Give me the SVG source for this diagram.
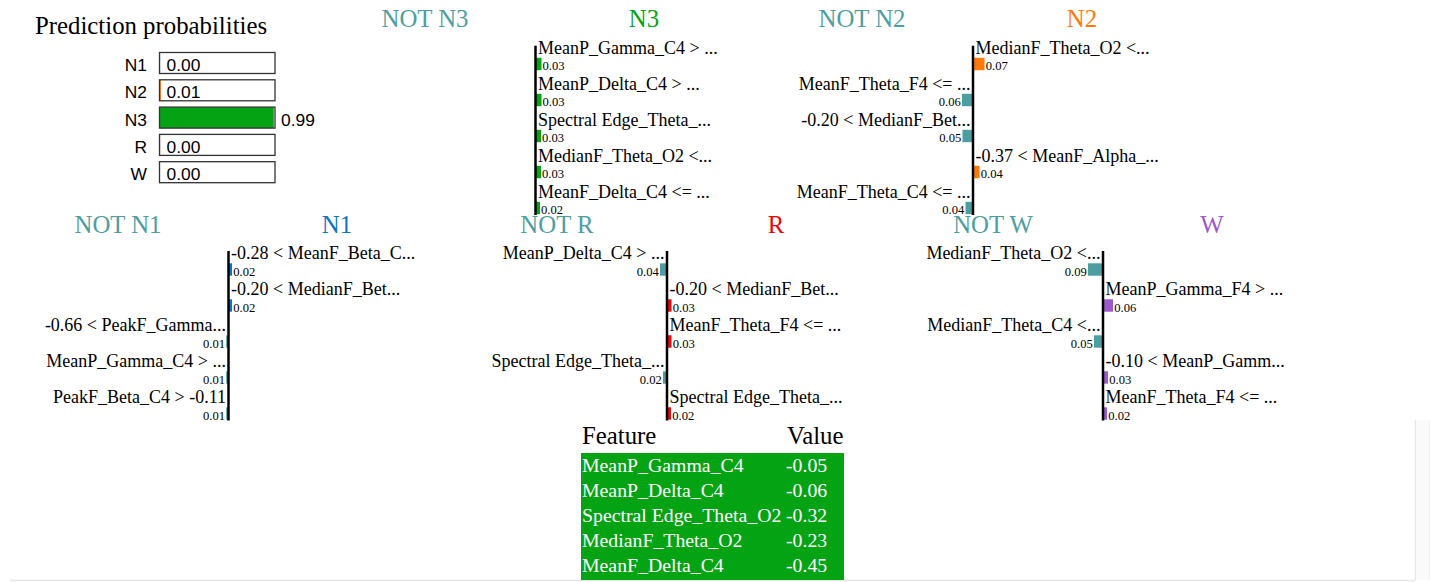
<svg xmlns="http://www.w3.org/2000/svg" width="1440" height="582" viewBox="0 0 1440 582">
<style>
.ttl{font-family:"Liberation Serif","Times New Roman",serif;font-size:24.8px}
.lbl{font-family:"Liberation Serif","Times New Roman",serif;font-size:18px;fill:#000}
.val{font-family:"Liberation Serif","Times New Roman",serif;font-size:12.6px;fill:#000}
.pn{font-family:"Liberation Sans",Arial,sans-serif;font-size:17.4px;fill:#000}
.box{fill:none;stroke:#333;stroke-width:1.3}
.axis{stroke:#000;stroke-width:2.5}
.neg{fill:#4d9ea0}
.e{text-anchor:end}
.m{text-anchor:middle}
.th{font-family:"Liberation Serif","Times New Roman",serif;font-size:24.8px;fill:#000}
.td{font-family:"Liberation Serif","Times New Roman",serif;font-size:19.8px;fill:#fff}
</style>
<defs>
<clipPath id="row1"><rect x="0" y="0" width="1440" height="215"/></clipPath>
<clipPath id="row2"><rect x="0" y="215" width="1440" height="205.5"/></clipPath>
</defs>
<rect width="1440" height="582" fill="#fff"/>

<g id="frame">
<line x1="10" y1="580.5" x2="1415" y2="580.5" stroke="#e6e6e6" stroke-width="1.5"/>
<line x1="1415.5" y1="420" x2="1415.5" y2="580" stroke="#e6e6e6" stroke-width="1.2"/>
<rect x="1416" y="420" width="13" height="160" fill="#fafafa"/>
<line x1="1429.5" y1="420" x2="1429.5" y2="580" stroke="#f0f0f0" stroke-width="1"/>
</g>

<g id="prediction-probabilities">
<text x="35" y="34" class="ttl" fill="#000">Prediction probabilities</text>
<text x="147" y="71" class="pn e">N1</text>
<rect x="159.5" y="52.5" width="0.6" height="21" fill="#0a75c2"/>
<rect x="159.5" y="52.5" width="115.5" height="21" class="box"/>
<text x="166.5" y="71" class="pn">0.00</text>
<text x="147" y="98.3" class="pn e">N2</text>
<rect x="159.5" y="79.8" width="1.4" height="21" fill="#ff7a0a"/>
<rect x="159.5" y="79.8" width="115.5" height="21" class="box"/>
<text x="166.5" y="98.3" class="pn">0.01</text>
<text x="147" y="125.6" class="pn e">N3</text>
<rect x="159.5" y="107.1" width="114.3" height="21" fill="#04a314"/>
<rect x="159.5" y="107.1" width="115.5" height="21" class="box"/>
<text x="281" y="125.6" class="pn">0.99</text>
<text x="147" y="152.9" class="pn e">R</text>
<rect x="159.5" y="134.4" width="0.6" height="21" fill="#e8070b"/>
<rect x="159.5" y="134.4" width="115.5" height="21" class="box"/>
<text x="166.5" y="152.9" class="pn">0.00</text>
<text x="147" y="180.2" class="pn e">W</text>
<rect x="159.5" y="161.7" width="115.5" height="21" class="box"/>
<text x="166.5" y="180.2" class="pn">0.00</text>
</g>

<g id="explanation-N3" clip-path="url(#row1)">
<text x="425" y="27.3" class="ttl m" fill="#4d9ea0">NOT N3</text>
<text x="644" y="27.3" class="ttl m" fill="#04a314">N3</text>
<text x="538" y="53.5" class="lbl">MeanP_Gamma_C4 &gt; ...</text>
<rect x="535.5" y="57.8" width="6" height="12.4" fill="#04a314"/>
<text x="542.5" y="70" class="val">0.03</text>
<text x="538" y="89.5" class="lbl">MeanP_Delta_C4 &gt; ...</text>
<rect x="535.5" y="93.8" width="6" height="12.4" fill="#04a314"/>
<text x="542.5" y="106" class="val">0.03</text>
<text x="538" y="125.5" class="lbl">Spectral Edge_Theta_...</text>
<rect x="535.5" y="129.8" width="5.5" height="12.4" fill="#04a314"/>
<text x="542" y="142" class="val">0.03</text>
<text x="538" y="161.5" class="lbl">MedianF_Theta_O2 &lt;...</text>
<rect x="535.5" y="165.8" width="5.5" height="12.4" fill="#04a314"/>
<text x="542" y="178" class="val">0.03</text>
<text x="538" y="197.5" class="lbl">MeanF_Delta_C4 &lt;= ...</text>
<rect x="535.5" y="201.8" width="4.5" height="12.4" fill="#04a314"/>
<text x="541" y="214" class="val">0.02</text>
<line x1="535.5" y1="45.7" x2="535.5" y2="216" class="axis"/>
</g>

<g id="explanation-N2" clip-path="url(#row1)">
<text x="862" y="27.3" class="ttl m" fill="#4d9ea0">NOT N2</text>
<text x="1082" y="27.3" class="ttl m" fill="#ff7a0a">N2</text>
<text x="975.5" y="53.5" class="lbl">MedianF_Theta_O2 &lt;...</text>
<rect x="973" y="57.8" width="11.5" height="12.4" fill="#ff7a0a"/>
<text x="985.7" y="70" class="val">0.07</text>
<text x="970.5" y="89.5" class="lbl e">MeanF_Theta_F4 &lt;= ...</text>
<rect x="962" y="93.8" width="11" height="12.4" class="neg"/>
<text x="960.8" y="106" class="val e">0.06</text>
<text x="970.5" y="125.5" class="lbl e">-0.20 &lt; MedianF_Bet...</text>
<rect x="962.5" y="129.8" width="10.5" height="12.4" class="neg"/>
<text x="961.3" y="142" class="val e">0.05</text>
<text x="975.5" y="161.5" class="lbl">-0.37 &lt; MeanF_Alpha_...</text>
<rect x="973" y="165.8" width="6.5" height="12.4" fill="#ff7a0a"/>
<text x="980.7" y="178" class="val">0.04</text>
<text x="970.5" y="197.5" class="lbl e">MeanF_Theta_C4 &lt;= ...</text>
<rect x="965.5" y="201.8" width="7.5" height="12.4" class="neg"/>
<text x="964.3" y="214" class="val e">0.04</text>
<line x1="973" y1="45.7" x2="973" y2="216" class="axis"/>
</g>

<g id="explanation-N1" clip-path="url(#row2)">
<text x="118" y="232.8" class="ttl m" fill="#4d9ea0">NOT N1</text>
<text x="337" y="232.8" class="ttl m" fill="#0a75c2">N1</text>
<text x="231" y="259" class="lbl">-0.28 &lt; MeanF_Beta_C...</text>
<rect x="228.5" y="263.3" width="3.5" height="12.4" fill="#0a75c2"/>
<text x="233.2" y="275.5" class="val">0.02</text>
<text x="231" y="295" class="lbl">-0.20 &lt; MedianF_Bet...</text>
<rect x="228.5" y="299.3" width="3.5" height="12.4" fill="#0a75c2"/>
<text x="233.2" y="311.5" class="val">0.02</text>
<text x="226" y="331" class="lbl e">-0.66 &lt; PeakF_Gamma...</text>
<rect x="226.2" y="335.3" width="2.3" height="12.4" class="neg"/>
<text x="225" y="347.5" class="val e">0.01</text>
<text x="226" y="367" class="lbl e">MeanP_Gamma_C4 &gt; ...</text>
<rect x="226.2" y="371.3" width="2.3" height="12.4" class="neg"/>
<text x="225" y="383.5" class="val e">0.01</text>
<text x="226" y="403" class="lbl e">PeakF_Beta_C4 &gt; -0.11</text>
<rect x="226.2" y="407.3" width="2.3" height="12.4" class="neg"/>
<text x="225" y="419.5" class="val e">0.01</text>
<line x1="228.5" y1="251" x2="228.5" y2="421" class="axis"/>
</g>

<g id="explanation-R" clip-path="url(#row2)">
<text x="557" y="232.8" class="ttl m" fill="#4d9ea0">NOT R</text>
<text x="776" y="232.8" class="ttl m" fill="#e8070b">R</text>
<text x="664.5" y="259" class="lbl e">MeanP_Delta_C4 &gt; ...</text>
<rect x="660" y="263.3" width="7" height="12.4" class="neg"/>
<text x="658.8" y="275.5" class="val e">0.04</text>
<text x="669.5" y="295" class="lbl">-0.20 &lt; MedianF_Bet...</text>
<rect x="667" y="299.3" width="4.5" height="12.4" fill="#e8070b"/>
<text x="672.7" y="311.5" class="val">0.03</text>
<text x="669.5" y="331" class="lbl">MeanF_Theta_F4 &lt;= ...</text>
<rect x="667" y="335.3" width="4.5" height="12.4" fill="#e8070b"/>
<text x="672.7" y="347.5" class="val">0.03</text>
<text x="664.5" y="367" class="lbl e">Spectral Edge_Theta_...</text>
<rect x="663" y="371.3" width="4" height="12.4" class="neg"/>
<text x="661.8" y="383.5" class="val e">0.02</text>
<text x="669.5" y="403" class="lbl">Spectral Edge_Theta_...</text>
<rect x="667" y="407.3" width="4" height="12.4" fill="#e8070b"/>
<text x="672.2" y="419.5" class="val">0.02</text>
<line x1="667" y1="251" x2="667" y2="421" class="axis"/>
</g>

<g id="explanation-W" clip-path="url(#row2)">
<text x="993" y="232.8" class="ttl m" fill="#4d9ea0">NOT W</text>
<text x="1212" y="232.8" class="ttl m" fill="#9b59c9">W</text>
<text x="1100.5" y="259" class="lbl e">MedianF_Theta_O2 &lt;...</text>
<rect x="1088" y="263.3" width="15" height="12.4" class="neg"/>
<text x="1086.8" y="275.5" class="val e">0.09</text>
<text x="1105.5" y="295" class="lbl">MeanP_Gamma_F4 &gt; ...</text>
<rect x="1103" y="299.3" width="10" height="12.4" fill="#9b59c9"/>
<text x="1114.2" y="311.5" class="val">0.06</text>
<text x="1100.5" y="331" class="lbl e">MedianF_Theta_C4 &lt;...</text>
<rect x="1094" y="335.3" width="9" height="12.4" class="neg"/>
<text x="1092.8" y="347.5" class="val e">0.05</text>
<text x="1105.5" y="367" class="lbl">-0.10 &lt; MeanP_Gamm...</text>
<rect x="1103" y="371.3" width="5" height="12.4" fill="#9b59c9"/>
<text x="1109.2" y="383.5" class="val">0.03</text>
<text x="1105.5" y="403" class="lbl">MeanF_Theta_F4 &lt;= ...</text>
<rect x="1103" y="407.3" width="4" height="12.4" fill="#9b59c9"/>
<text x="1108.2" y="419.5" class="val">0.02</text>
<line x1="1103" y1="251" x2="1103" y2="421" class="axis"/>
</g>

<g id="feature-table">
<text x="582" y="444" class="th">Feature</text>
<text x="787" y="444" class="th">Value</text>
<rect x="581" y="453" width="263" height="127" fill="#04a314"/>
<text x="582" y="472" class="td">MeanP_Gamma_C4</text>
<text x="786" y="472" class="td">-0.05</text>
<text x="582" y="497" class="td">MeanP_Delta_C4</text>
<text x="786" y="497" class="td">-0.06</text>
<text x="582" y="522" class="td">Spectral Edge_Theta_O2</text>
<text x="786" y="522" class="td">-0.32</text>
<text x="582" y="547" class="td">MedianF_Theta_O2</text>
<text x="786" y="547" class="td">-0.23</text>
<text x="582" y="572" class="td">MeanF_Delta_C4</text>
<text x="786" y="572" class="td">-0.45</text>
</g>
</svg>
